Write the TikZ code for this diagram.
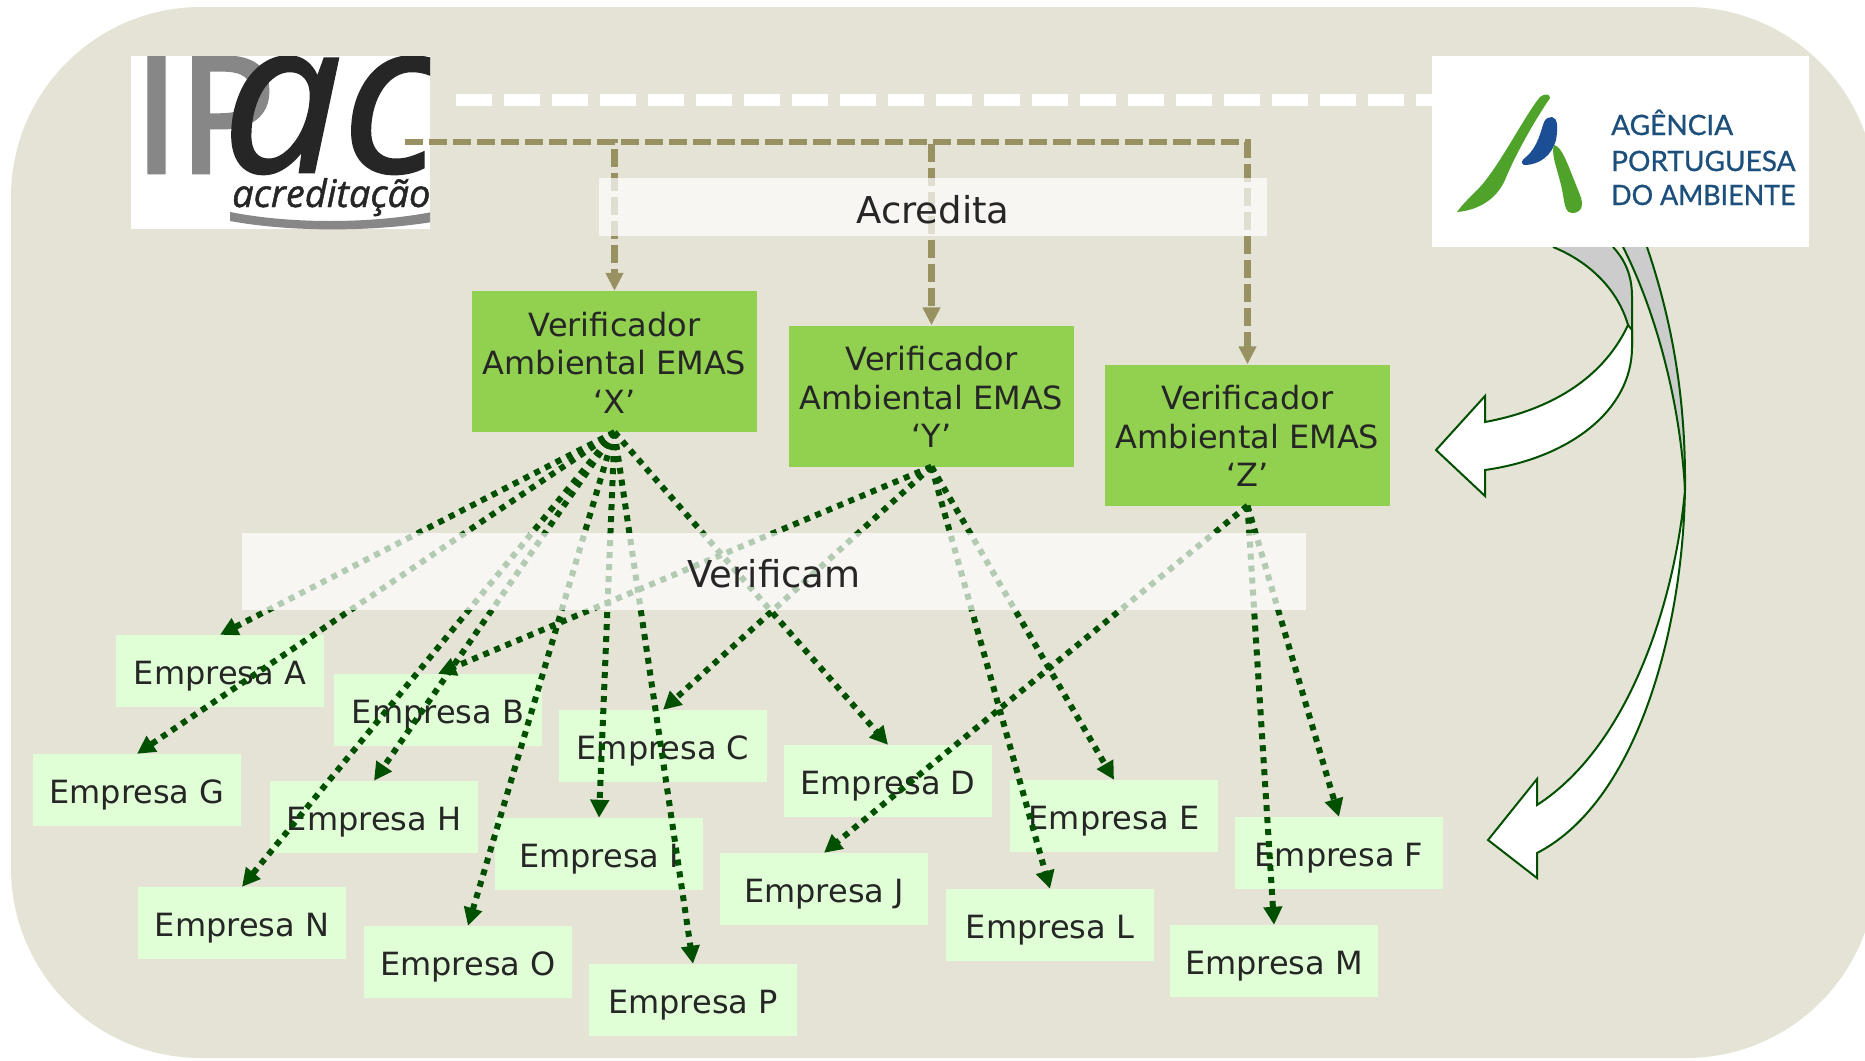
\documentclass[tikz,border=0pt]{standalone}
\usepackage{fontspec}
\setmainfont{DejaVu Sans}
\newfontfamily\logoIP[FakeBold=3]{Open Sans}
\newfontfamily\logoAC[FakeBold=1.2,ItalicFont={Open Sans Italic}]{Open Sans}
\newfontfamily\logoB[FakeBold=0.8]{Lato}
\usetikzlibrary{arrows.meta}
\definecolor{bgc}{HTML}{E5E3D5}
\definecolor{darkg}{HTML}{005000}
\definecolor{brownl}{HTML}{989162}
\definecolor{verif}{HTML}{92D050}
\definecolor{empc}{HTML}{E0FFD6}
\definecolor{txt}{HTML}{262626}
\definecolor{apab}{HTML}{1D4F7C}
\definecolor{apag}{HTML}{4FA32A}
\definecolor{apad}{HTML}{1C4E96}
\tikzset{
 empresa/.style={fill=empc,minimum width=208pt,minimum height=72pt,inner sep=0pt,text=txt,text height=33pt,text depth=7pt,font=\fontsize{32}{38}\selectfont},
 verifbox/.style={fill=verif,minimum width=285pt,minimum height=141pt,inner sep=0pt,text=txt,align=center,font=\fontsize{32}{38.5}\selectfont},
 band/.style={fill=white,fill opacity=0.7,text opacity=1,inner sep=0pt,text=txt,text height=32pt,text depth=0pt,font=\fontsize{37}{40}\selectfont},
 logobox/.style={fill=white,inner sep=0pt},
 dotarrow/.style={draw=darkg,line width=6pt,dash pattern=on 6pt off 6pt,-{Triangle[length=18pt,width=18pt,fill=darkg]}},
 brownarrow/.style={draw=brownl,line width=6.5pt,dash pattern=on 18pt off 6pt,-{Triangle[length=18pt,width=17pt,fill=brownl]}},
 whitedash/.style={draw=white,line width=12pt,dash pattern=on 36pt off 12pt},
 curved/.style={draw=darkg,line width=2pt,line join=miter},
 apatext/.style={inner sep=0pt,anchor=base west,text=apab,font=\logoB\fontsize{28}{30}\selectfont},
}
\begin{document}
\begin{tikzpicture}[x=1pt,y=-1pt]
\path[use as bounding box] (0,0) rectangle (1865,1060);
\fill[white] (0,0) rectangle (1865,1060);
\begin{scope}
\clip (0,0) rectangle (1865,1060);
\fill[bgc,rounded corners=190pt] (11,7) rectangle (1876,1058);
\end{scope}

% curved arrows
\fill[black!20] (1553,247) .. controls (1590,262) and (1618,290) .. (1628,325) -- (1632,347) -- (1632,297) .. controls (1632,275) and (1625,260) .. (1613,247) -- cycle;
\draw[curved] (1553,247) .. controls (1590,262) and (1618,290) .. (1628,325);
\draw[curved] (1613,247) .. controls (1625,260) and (1632,275) .. (1632,297) -- (1632,347);
\draw[curved,fill=white] (1628,325) .. controls (1600,385) and (1540,412) .. (1485,422) -- (1485,396) -- (1436,450) -- (1485,496) -- (1485,470) .. controls (1570,458) and (1632,410) .. (1632,347) -- (1632,330) -- cycle;

\fill[black!20] (1623,247) .. controls (1655,310) and (1680,400) .. (1685,490) -- (1685,480) .. controls (1685,390) and (1670,315) .. (1647,247) -- cycle;
\draw[curved] (1623,247) .. controls (1655,310) and (1680,400) .. (1685,490);
\draw[curved] (1647,247) .. controls (1670,315) and (1685,390) .. (1685,480);
\draw[curved,fill=white] (1685,490) .. controls (1675,600) and (1630,745) .. (1537,805) -- (1537,779) -- (1488,840) -- (1537,878) -- (1537,853) .. controls (1640,800) and (1685,620) .. (1685,480) -- cycle;

% IPAC logo
\node[logobox,minimum width=299pt,minimum height=173pt] (ipac) at (280.5,142.5) {};
\begin{scope}
\clip (131,56) rectangle (430,229);
\node[inner sep=0pt,anchor=base west,text=black!47] (ipacA) at (134,172) {\logoIP\fontsize{160}{160}\selectfont IP};
\node[inner sep=0pt,anchor=base west,text=black!85] (ipacB) at (222,172) {\logoAC\itshape\fontsize{212}{212}\selectfont ac};
\node[inner sep=0pt,anchor=base west,text=black!85] (ipacC) at (232,207) {\logoAC\itshape\fontsize{38}{38}\selectfont acreditação};
\fill[black!47] (230,212) .. controls (290,224) and (370,224) .. (432,212) -- (432,222) .. controls (370,232) and (290,232) .. (230,221) -- cycle;
\end{scope}

% APA logo
\node[logobox,minimum width=377pt,minimum height=191pt] (apa) at (1620.5,151.5) {};
\fill[apag] (1457,212) .. controls (1480,210) and (1497,198) .. (1505,180) .. controls (1515,155) and (1535,120) .. (1550,98) .. controls (1550,94) and (1545,93) .. (1540,97) .. controls (1525,115) and (1500,165) .. (1480,187) .. controls (1470,197) and (1462,205) .. (1457,212) -- cycle;
\fill[apad] (1552,117) .. controls (1558,118) and (1558,128) .. (1556,140) .. controls (1552,155) and (1540,165) .. (1524,165) .. controls (1520,163) and (1522,160) .. (1526,157) .. controls (1538,147) and (1541,130) .. (1544,122) .. controls (1546,118) and (1549,117) .. (1552,117) -- cycle;
\fill[apag] (1554,145) .. controls (1562,147) and (1566,160) .. (1580,195) .. controls (1584,205) and (1582,213) .. (1572,213) .. controls (1566,213) and (1565,207) .. (1563,195) .. controls (1560,175) and (1550,155) .. (1554,145) -- cycle;
\node[apatext] (apa1) at (1611,135) {AGÊNCIA};
\node[apatext] (apa2) at (1611,171) {PORTUGUESA};
\node[apatext,xscale=0.96] (apa3) at (1611,205) {DO AMBIENTE};

% empresas
\node[empresa] (emA) at (220,671) {Empresa A};
\node[empresa] (emB) at (438,710) {Empresa B};
\node[empresa] (emC) at (663,746) {Empresa C};
\node[empresa] (emD) at (888,781) {Empresa D};
\node[empresa] (emE) at (1114,816) {Empresa E};
\node[empresa] (emF) at (1339,853) {Empresa F};
\node[empresa] (emG) at (137,790) {Empresa G};
\node[empresa] (emH) at (374,817) {Empresa H};
\node[empresa] (emI) at (599,854) {Empresa I};
\node[empresa] (emJ) at (824,889) {Empresa J};
\node[empresa] (emL) at (1050,925) {Empresa L};
\node[empresa] (emM) at (1274,961) {Empresa M};
\node[empresa] (emN) at (242,923) {Empresa N};
\node[empresa] (emO) at (468,962) {Empresa O};
\node[empresa] (emP) at (693,1000) {Empresa P};

% verificadores
\node[verifbox] (vX) at (614.5,361.5) {\rule{0pt}{26pt}Verificador\\Ambiental EMAS\\‘X’};
\node[verifbox] (vY) at (931.5,396) {\rule{0pt}{26pt}Verificador\\Ambiental EMAS\\‘Y’};
\node[verifbox] (vZ) at (1247.5,435) {\rule{0pt}{26pt}Verificador\\Ambiental EMAS\\‘Z’};

% top dashed lines
\coordinate (ws) at (456,100);
\coordinate (bs) at (405,142);
\draw[whitedash] (ws) -- (apa.west |- ws);
\draw[brownarrow] (bs) -| (vX.north);
\draw[brownarrow] (bs) -| (vY.north);
\draw[brownarrow] (bs) -| (vZ.north);

% dotted connectors
\foreach \t in {emA,emG,emH,emN,emO,emI,emP,emD} \draw[dotarrow] (vX.south) -- (\t.north);
\foreach \t in {emB,emC,emE,emL} \draw[dotarrow] (vY.south) -- (\t.north);
\foreach \t in {emJ,emF,emM} \draw[dotarrow] (vZ.south) -- (\t.north);

% bands
\node[band,minimum width=668pt,minimum height=58pt] (acr) at (933,207) {Acredita};
\node[band,minimum width=1064pt,minimum height=77pt] (ver) at (774,571.5) {Verificam};
\end{tikzpicture}
\end{document}
